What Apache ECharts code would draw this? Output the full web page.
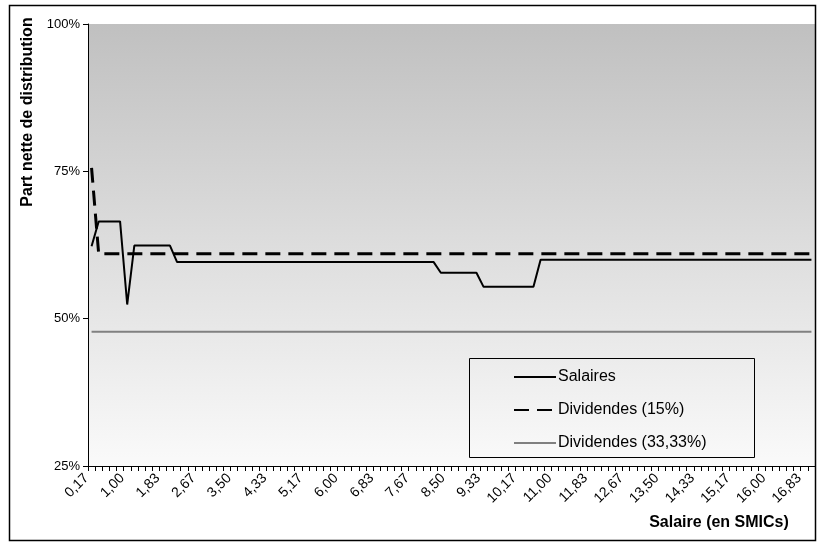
<!DOCTYPE html>
<html>
<head>
<meta charset="utf-8">
<script src="https://cdn.jsdelivr.net/npm/echarts@6/dist/echarts.min.js"></script>
<style>
  html, body { margin: 0; padding: 0; background: #ffffff; }
  #chart { width: 818px; height: 544px; }
</style>
</head>
<body>
<div id="chart"></div>
<script>
// Salary levels, in multiples of the SMIC
const categories = [
  '0,17','0,33','0,50','0,67','0,83','1,00','1,17','1,33','1,50','1,67',
  '1,83','2,00','2,17','2,33','2,50','2,67','2,83','3,00','3,17','3,33',
  '3,50','3,67','3,83','4,00','4,17','4,33','4,50','4,67','4,83','5,00',
  '5,17','5,33','5,50','5,67','5,83','6,00','6,17','6,33','6,50','6,67',
  '6,83','7,00','7,17','7,33','7,50','7,67','7,83','8,00','8,17','8,33',
  '8,50','8,67','8,83','9,00','9,17','9,33','9,50','9,67','9,83','10,00',
  '10,17','10,33','10,50','10,67','10,83','11,00','11,17','11,33','11,50','11,67',
  '11,83','12,00','12,17','12,33','12,50','12,67','12,83','13,00','13,17','13,33',
  '13,50','13,67','13,83','14,00','14,17','14,33','14,50','14,67','14,83','15,00',
  '15,17','15,33','15,50','15,67','15,83','16,00','16,17','16,33','16,50','16,67',
  '16,83','17,00'
];

// Net share of distribution (%) when paid as salary
const salaires = [
  62.3, 66.5, 66.5, 66.5, 66.5, 52.4, 62.4, 62.4, 62.4, 62.4,
  62.4, 62.4, 59.6, 59.6, 59.6, 59.6, 59.6, 59.6, 59.6, 59.6,
  59.6, 59.6, 59.6, 59.6, 59.6, 59.6, 59.6, 59.6, 59.6, 59.6,
  59.6, 59.6, 59.6, 59.6, 59.6, 59.6, 59.6, 59.6, 59.6, 59.6,
  59.6, 59.6, 59.6, 59.6, 59.6, 59.6, 59.6, 59.6, 59.6, 57.8,
  57.8, 57.8, 57.8, 57.8, 57.8, 55.4, 55.4, 55.4, 55.4, 55.4,
  55.4, 55.4, 55.4, 60.0, 60.0, 60.0, 60.0, 60.0, 60.0, 60.0,
  60.0, 60.0, 60.0, 60.0, 60.0, 60.0, 60.0, 60.0, 60.0, 60.0,
  60.0, 60.0, 60.0, 60.0, 60.0, 60.0, 60.0, 60.0, 60.0, 60.0,
  60.0, 60.0, 60.0, 60.0, 60.0, 60.0, 60.0, 60.0, 60.0, 60.0,
  60.0, 60.0
];

// Net share (%) when paid as dividends, 15% rate
const dividendes15 = [
  75.6, 61.0, 61.0, 61.0, 61.0, 61.0, 61.0, 61.0, 61.0, 61.0,
  61.0, 61.0, 61.0, 61.0, 61.0, 61.0, 61.0, 61.0, 61.0, 61.0,
  61.0, 61.0, 61.0, 61.0, 61.0, 61.0, 61.0, 61.0, 61.0, 61.0,
  61.0, 61.0, 61.0, 61.0, 61.0, 61.0, 61.0, 61.0, 61.0, 61.0,
  61.0, 61.0, 61.0, 61.0, 61.0, 61.0, 61.0, 61.0, 61.0, 61.0,
  61.0, 61.0, 61.0, 61.0, 61.0, 61.0, 61.0, 61.0, 61.0, 61.0,
  61.0, 61.0, 61.0, 61.0, 61.0, 61.0, 61.0, 61.0, 61.0, 61.0,
  61.0, 61.0, 61.0, 61.0, 61.0, 61.0, 61.0, 61.0, 61.0, 61.0,
  61.0, 61.0, 61.0, 61.0, 61.0, 61.0, 61.0, 61.0, 61.0, 61.0,
  61.0, 61.0, 61.0, 61.0, 61.0, 61.0, 61.0, 61.0, 61.0, 61.0,
  61.0, 61.0
];

// Net share (%) when paid as dividends, 33,33% rate
const dividendes33 = [
  47.8, 47.8, 47.8, 47.8, 47.8, 47.8, 47.8, 47.8, 47.8, 47.8,
  47.8, 47.8, 47.8, 47.8, 47.8, 47.8, 47.8, 47.8, 47.8, 47.8,
  47.8, 47.8, 47.8, 47.8, 47.8, 47.8, 47.8, 47.8, 47.8, 47.8,
  47.8, 47.8, 47.8, 47.8, 47.8, 47.8, 47.8, 47.8, 47.8, 47.8,
  47.8, 47.8, 47.8, 47.8, 47.8, 47.8, 47.8, 47.8, 47.8, 47.8,
  47.8, 47.8, 47.8, 47.8, 47.8, 47.8, 47.8, 47.8, 47.8, 47.8,
  47.8, 47.8, 47.8, 47.8, 47.8, 47.8, 47.8, 47.8, 47.8, 47.8,
  47.8, 47.8, 47.8, 47.8, 47.8, 47.8, 47.8, 47.8, 47.8, 47.8,
  47.8, 47.8, 47.8, 47.8, 47.8, 47.8, 47.8, 47.8, 47.8, 47.8,
  47.8, 47.8, 47.8, 47.8, 47.8, 47.8, 47.8, 47.8, 47.8, 47.8,
  47.8, 47.8
];

const seriesNames = ['Salaires', 'Dividendes (15%)', 'Dividendes (33,33%)'];
const yTicks = [25, 50, 75, 100];

const FONT = '"Liberation Sans", Arial, sans-serif';

const chart = echarts.init(document.getElementById('chart'), null, { renderer: 'canvas' });

chart.setOption({
  animation: false,
  backgroundColor: '#ffffff',
  grid: {
    left: 88, top: 24, right: 3, bottom: 78,
    show: true,
    borderWidth: 0,
    backgroundColor: {
      type: 'linear', x: 0, y: 0, x2: 0, y2: 1,
      colorStops: [
        { offset: 0, color: '#c0c0c0' },
        { offset: 1, color: '#fafafa' }
      ]
    }
  },
  xAxis: {
    type: 'category',
    data: categories,
    boundaryGap: true,
    axisLine: { lineStyle: { color: '#000000', width: 1 } },
    axisTick: { show: true, interval: 0, length: 5, lineStyle: { color: '#000000' } },
    axisLabel: {
      interval: 4,
      rotate: 45,
      margin: 5,
      padding: [0, 7, 0, 0],
      color: '#000000',
      fontSize: 14,
      fontFamily: FONT
    },
    splitLine: { show: false }
  },
  yAxis: {
    type: 'value',
    min: yTicks[0],
    max: yTicks[yTicks.length - 1],
    interval: 25,
    axisLine: { show: true, lineStyle: { color: '#000000', width: 1 } },
    axisTick: { show: true, length: 5, lineStyle: { color: '#000000' } },
    axisLabel: {
      formatter: '{value}%',
      margin: 8,
      color: '#000000',
      fontSize: 13,
      fontFamily: FONT
    },
    splitLine: { show: false }
  },
  legend: {
    orient: 'vertical',
    left: 513,
    top: 369,
    padding: 0,
    itemWidth: 42,
    itemHeight: 14,
    itemGap: 17,
    data: seriesNames,
    itemStyle: { opacity: 0 },
    textStyle: { color: '#000000', fontSize: 16, lineHeight: 14, fontFamily: FONT, padding: [0, 0, 0, -3] }
  },
  graphic: [
    {
      type: 'rect',
      shape: { x: 9.5, y: 5.5, width: 806, height: 535 },
      style: { fill: 'none', stroke: '#000000', lineWidth: 1.5 },
      silent: true,
      z: 0
    },
    {
      type: 'rect',
      shape: { x: 469.5, y: 358.5, width: 285, height: 99 },
      style: { fill: 'none', stroke: '#000000', lineWidth: 1 },
      silent: true,
      z: 5
    },
    {
      type: 'text',
      x: 28, y: 112,
      rotation: Math.PI / 2,
      style: {
        text: 'Part nette de distribution',
        font: 'bold 16px ' + FONT,
        fill: '#000000',
        align: 'center',
        verticalAlign: 'middle'
      },
      z: 10
    },
    {
      type: 'text',
      x: 719, y: 523,
      style: {
        text: 'Salaire (en SMICs)',
        font: 'bold 16px ' + FONT,
        fill: '#000000',
        align: 'center',
        verticalAlign: 'middle'
      },
      z: 10
    }
  ],
  series: [
    {
      name: seriesNames[0],
      type: 'line',
      data: salaires,
      symbol: 'none',
      lineStyle: { color: '#000000', width: 2 },
      itemStyle: { color: '#000000' },
      z: 4
    },
    {
      name: seriesNames[1],
      type: 'line',
      data: dividendes15,
      symbol: 'none',
      lineStyle: { color: '#000000', width: 3, type: [15, 8] },
      itemStyle: { color: '#000000' },
      z: 3
    },
    {
      name: seriesNames[2],
      type: 'line',
      data: dividendes33,
      symbol: 'none',
      lineStyle: { color: '#808080', width: 2 },
      itemStyle: { color: '#808080' },
      z: 2
    }
  ]
});
</script>
</body>
</html>
